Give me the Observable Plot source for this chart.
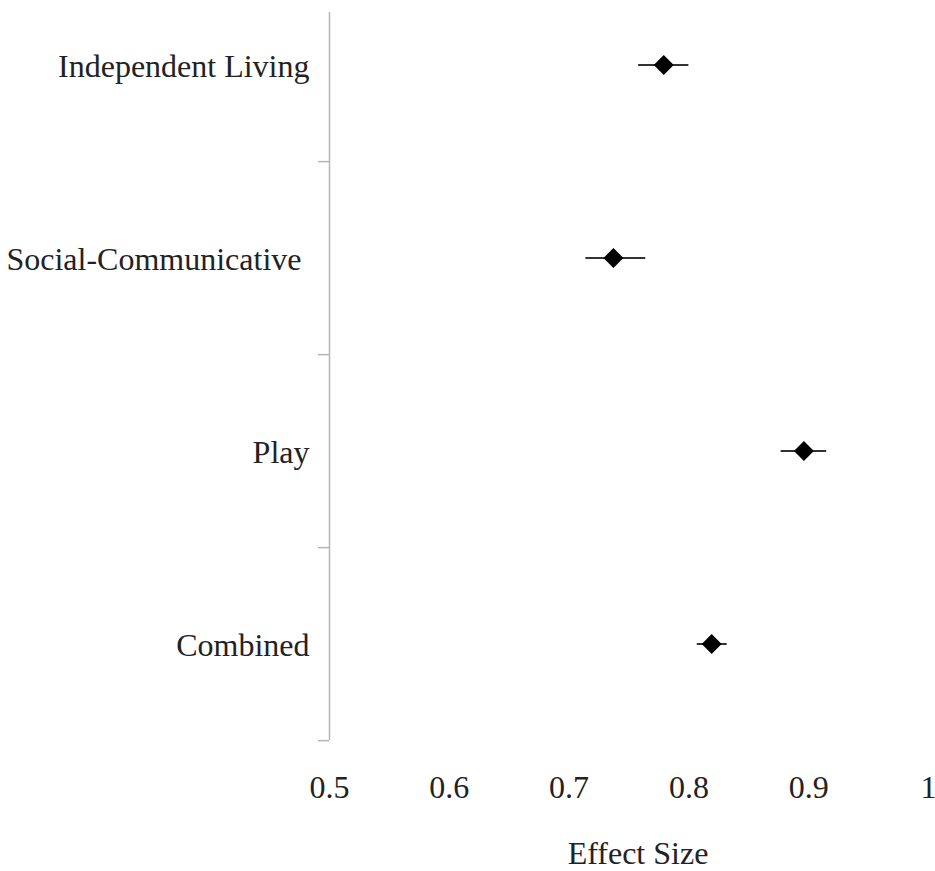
<!DOCTYPE html>
<html>
<head>
<meta charset="utf-8">
<script src="https://cdn.jsdelivr.net/npm/d3@7"></script>
<script src="https://cdn.jsdelivr.net/npm/@observablehq/plot@0.6"></script>
<style>
  html, body { margin: 0; padding: 0; background: #fff; }
  #chart svg { display: block; }
</style>
</head>
<body>
<div id="chart"></div>
<script>
// Effect sizes by outcome domain, with lower / upper interval bounds
const categories = ["Independent Living", "Social-Communicative", "Play", "Combined"];
const effect = [0.779, 0.737, 0.896, 0.819];
const lower = [0.758, 0.714, 0.877, 0.807];
const upper = [0.800, 0.764, 0.915, 0.832];

const xTicks = [0.5, 0.6, 0.7, 0.8, 0.9, 1];
const xTickLabels = ["0.5", "0.6", "0.7", "0.8", "0.9", "1"];
const xLabel = "Effect Size";

const rows = categories.map((c, i) => ({ category: c, effect: effect[i], lower: lower[i], upper: upper[i] }));

// Layout
const W = 935, H = 871;
const mTop = 12, mBottom = 131, mLeft = 329, mRight = 7;
const bandTop = -33, bandBottom = H - mBottom;     // first band extends above the frame
const step = (bandBottom - bandTop) / categories.length;

const axisColor = "#b4b4b4";
const textColor = "#222";

const chart = Plot.plot({
  width: W,
  height: H,
  marginTop: mTop,
  marginBottom: mBottom,
  marginLeft: mLeft,
  marginRight: mRight,
  style: { fontFamily: "'Liberation Serif', 'Times New Roman', serif", fontSize: "32px", color: textColor, background: "#fff" },
  x: { domain: [0.5, 1] },
  y: { type: "band", domain: categories, range: [bandTop, bandBottom], padding: 0 },
  marks: [
    // vertical category axis line
    Plot.ruleX([0.5], { stroke: axisColor, strokeWidth: 1.5 }),
    // tick marks on the category boundaries
    Plot.ruleY(categories, {
      y: d => d, x1: () => 0.5, x2: () => 0.5,
      insetLeft: -11, dy: step / 2,
      stroke: axisColor, strokeWidth: 1.5
    }),
    // category labels
    Plot.axisY({
      tickSize: 0, tickPadding: 20, dy: 2,
      tickFormat: d => d === "Social-Communicative" ? d + "\u00a0" : d,
      fill: textColor, label: null
    }),
    // value labels along the bottom
    Plot.axisX({
      ticks: xTicks, tickSize: 0, tickPadding: 35,
      tickFormat: d => xTickLabels[xTicks.indexOf(d)],
      fill: textColor, label: null
    }),
    // axis title
    Plot.text([xLabel], { frameAnchor: "bottom", dy: 123, dx: 9, fill: textColor, fontSize: 32 }),
    // interval bars
    Plot.ruleY(rows, { y: "category", x1: "lower", x2: "upper", stroke: "#333", strokeWidth: 2 }),
    // point estimates
    Plot.dot(rows, { y: "category", x: "effect", symbol: "diamond2", r: 9, fill: "#000", stroke: "none" })
  ]
});

document.getElementById("chart").appendChild(chart);
</script>
</body>
</html>
